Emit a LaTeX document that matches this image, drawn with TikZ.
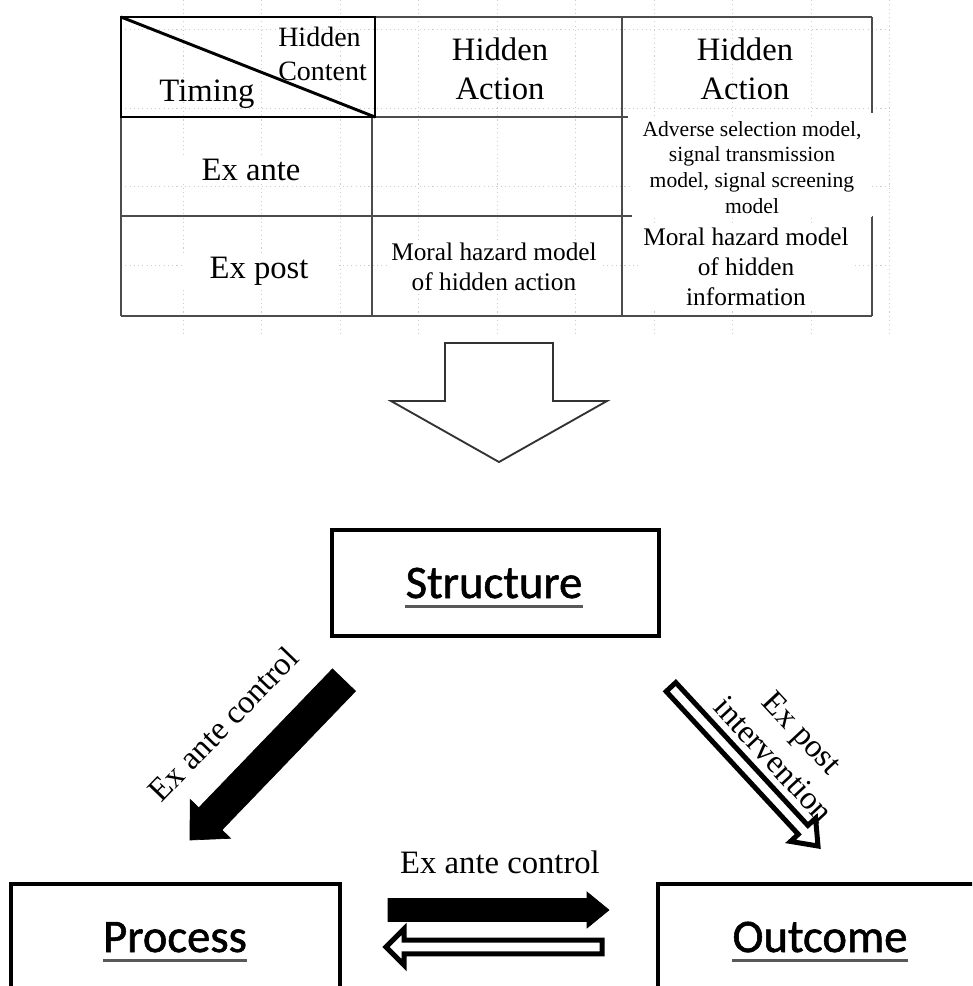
\documentclass[tikz,border=0pt]{standalone}
\usepackage{fontspec}
\setmainfont{Liberation Serif}
\newfontfamily\calfont[FakeBold=1.2]{Carlito}
\usetikzlibrary{calc}

% block arrow: #1 style, #2 tail coordinate, #3 tip coordinate,
% #4 shaft half width, #5 head half width, #6 head length
\newcommand\blockarrow[6]{%
  \coordinate (ba-h) at ($(#3)!#6!(#2)$);
  \draw[#1] ($(#2)!#4!90:(#3)$) -- ($(ba-h)!#4!90:(#3)$) -- ($(ba-h)!#5!90:(#3)$)
    -- (#3) -- ($(ba-h)!#5!-90:(#3)$) -- ($(ba-h)!#4!-90:(#3)$)
    -- ($(#2)!#4!-90:(#3)$) -- cycle;}

\begin{document}
\begin{tikzpicture}[x=0.75pt,y=-0.75pt,
  gridln/.style={draw=gray!40, line width=0.7pt, dash pattern=on 0.8pt off 2.4pt},
  tline/.style={draw=black!70, line width=1.3pt},
  hline/.style={draw=black, line width=2.2pt},
  big/.style={inner sep=0pt, font=\fontsize{24.5}{29}\selectfont},
  cell/.style={inner sep=0pt, align=center},
  box/.style={draw=black, line width=3.2pt, fill=white},
  capt/.style={inner sep=0pt, font=\calfont\fontsize{35}{40}\selectfont},
  ul/.style={draw=black!65, line width=1.8pt},
  solidarrow/.style={draw=black, fill=black, line width=0.5pt, line join=miter},
  hollowarrow/.style={draw=black, fill=white, line width=3.75pt, line join=miter},
  lbl/.style={inner sep=0pt, font=\fontsize{24.5}{29.5}\selectfont, align=center}]
\useasboundingbox (0,0) rectangle (972,986);
\clip (0,0) rectangle (972,986);

% faint layout grid behind the table
\foreach \i in {0,...,9}
  \draw[gridln] (183+78.5*\i,0) -- (183+78.5*\i,336);
\foreach \yy in {29.5,108,186.5,265}
  \draw[gridln] (121,\yy) -- (890,\yy);

% table rules
\draw[tline] (375,17) -- (872,17);
\draw[tline] (121,117) -- (121,316);
\draw[tline] (372,117) -- (372,316);
\draw[tline] (622,17) -- (622,316);
\draw[tline] (872,17) -- (872,113);
\draw[tline] (872,216) -- (872,316);
\draw[tline] (375,117) -- (628,117);
\draw[tline] (121,216) -- (872,216);
\draw[tline] (121,316) -- (872,316);
% header corner cell with its diagonal
\draw[hline] (121,17) rectangle (375,117);
\draw[hline] (121,17) -- (375,117);

% table texts (multi-line nodes are placed by the baseline of their last line)
\node[cell, anchor=base west, font=\fontsize{21}{25.5}\selectfont, align=left] (hc) at (278,80) {Hidden\\Content};
\node[big, anchor=base] (tm) at (207,101) {Timing};
\node[big, cell, anchor=base, font=\fontsize{24.5}{29}\selectfont] (ha1) at (500,99) {Hidden\\Action};
\node[big, cell, anchor=base, font=\fontsize{24.5}{29}\selectfont] (ha2) at (745,99) {Hidden\\Action};
\node[big, anchor=base, fill=white, inner xsep=28pt, inner ysep=3pt] (ea) at (251,180) {Ex ante};
\node[big, anchor=base, fill=white, inner xsep=20pt, inner ysep=3pt] (ep) at (259,278) {Ex post};
\node[cell, anchor=base, font=\fontsize{19}{21.8}\selectfont, fill=white, inner xsep=3pt, inner ysep=2pt] (mh1) at (494,290) {Moral hazard model\\of hidden action};
\node[cell, anchor=base, font=\fontsize{16.2}{19.2}\selectfont, fill=white, minimum width=180pt, inner ysep=3pt] (as) at (752,213) {Adverse selection model,\\signal transmission\\model, signal screening\\model};
\node[cell, anchor=base, font=\fontsize{19}{22.5}\selectfont, fill=white, inner xsep=3pt, inner ysep=2pt] (mh2) at (746,305) {Moral hazard model\\of hidden\\information};

% large hollow down arrow
\draw[draw=black!80, line width=1.4pt, fill=white, line join=miter]
  (445,343) -- (553,343) -- (553,401) -- (607,401) -- (499,462)
  -- (391,401) -- (445,401) -- cycle;

% framework boxes
\draw[box] (332,530) rectangle (659,636);
\draw[box] (11,884) rectangle (340,1010);
\draw[box] (658,884) rectangle (1000,1010);
\node[capt, anchor=base] (st) at (494,598) {Structure};
\node[capt, anchor=base] (pr) at (175,952) {Process};
\node[capt, anchor=base] (oc) at (820,952) {Outcome};
\draw[ul] ([yshift=-6.5pt]st.base west) -- ([yshift=-6.5pt]st.base east);
\draw[ul] ([yshift=-6.5pt]pr.base west) -- ([yshift=-6.5pt]pr.base east);
\draw[ul] ([yshift=-6.5pt]oc.base west) -- ([yshift=-6.5pt]oc.base east);

% arrow end points
\coordinate (la-s) at (344,680);
\coordinate (la-t) at (190,840);
\coordinate (ra-s) at (671,687);
\coordinate (ra-t) at (818,846);
\coordinate (ha-s) at (388,910);
\coordinate (ha-t) at (609,910);
\coordinate (hb-s) at (602,947);
\coordinate (hb-t) at (386,947);

\blockarrow{solidarrow}{la-s}{la-t}{12pt}{21pt}{22pt}
\blockarrow{hollowarrow}{ra-s}{ra-t}{4.9pt}{12.8pt}{16.5pt}
\blockarrow{solidarrow}{ha-s}{ha-t}{8.6pt}{13.5pt}{16.5pt}
\blockarrow{hollowarrow}{hb-s}{hb-t}{5.2pt}{13.5pt}{13.5pt}

% arrow labels
\node[lbl, rotate=46] (l1) at (223,724) {Ex ante control};
\node[lbl, rotate=-47] (l2) at (788,746) {Ex post\\intervention};
\node[lbl] (l3) at (500,862) {Ex ante control};
\end{tikzpicture}
\end{document}
